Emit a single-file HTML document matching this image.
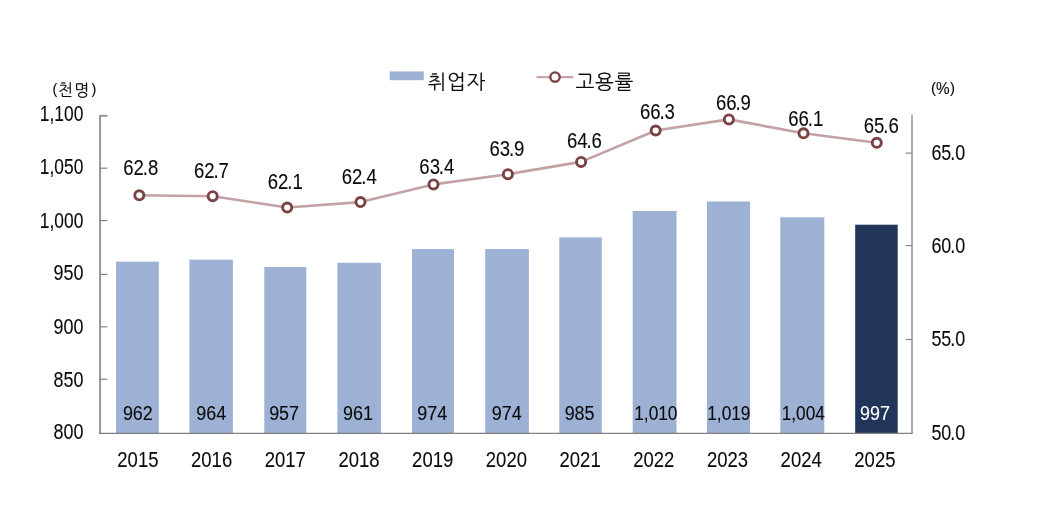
<!DOCTYPE html>
<html lang="ko">
<head>
<meta charset="utf-8">
<title>취업자 및 고용률 추이</title>
<style>
html,body{margin:0;padding:0;background:#fff;}
body{width:1052px;height:528px;overflow:hidden;font-family:"Liberation Sans","NanumGothic","Noto Sans CJK KR",sans-serif;}
svg{display:block;}
</style>
</head>
<body>
<svg width="1052" height="528" viewBox="0 0 1052 528">
<rect width="1052" height="528" fill="#ffffff"/>
<rect x="116.0" y="261.7" width="42.8" height="171.3" fill="#9cb1d4"/>
<rect x="189.4" y="259.6" width="43.5" height="173.4" fill="#9cb1d4"/>
<rect x="264.3" y="267.0" width="42.0" height="166.0" fill="#9cb1d4"/>
<rect x="337.4" y="262.8" width="43.5" height="170.2" fill="#9cb1d4"/>
<rect x="412.0" y="249.1" width="42.0" height="183.9" fill="#9cb1d4"/>
<rect x="485.2" y="249.1" width="43.7" height="183.9" fill="#9cb1d4"/>
<rect x="559.3" y="237.4" width="42.5" height="195.6" fill="#9cb1d4"/>
<rect x="632.7" y="211.0" width="43.8" height="222.0" fill="#9cb1d4"/>
<rect x="706.9" y="201.5" width="43.2" height="231.5" fill="#9cb1d4"/>
<rect x="780.3" y="217.3" width="44.0" height="215.7" fill="#9cb1d4"/>
<rect x="855.2" y="224.7" width="42.5" height="208.3" fill="#21355b"/>
<path d="M100.05 114.95 V434.0" fill="none" stroke="#979797" stroke-width="2"/>
<path d="M99.05 433.4 H912.9" fill="none" stroke="#808080" stroke-width="1.3"/>
<path d="M912.0 114.85 V433.0" fill="none" stroke="#a8a8a8" stroke-width="1.9"/>
<text transform="translate(83.40,439.20) scale(0.838,1)" text-anchor="end" font-size="21.4" letter-spacing="0" fill="#0a0a0a" stroke="#0a0a0a" stroke-width="0.1" style="font-family:'Liberation Sans', 'Noto Sans CJK KR', sans-serif">800</text>
<path d="M100.05 379.3 H107.4" stroke="#858585" stroke-width="1.2"/>
<text transform="translate(83.40,387.00) scale(0.838,1)" text-anchor="end" font-size="21.4" letter-spacing="0" fill="#0a0a0a" stroke="#0a0a0a" stroke-width="0.1" style="font-family:'Liberation Sans', 'Noto Sans CJK KR', sans-serif">850</text>
<path d="M100.05 326.8 H107.4" stroke="#858585" stroke-width="1.2"/>
<text transform="translate(83.40,333.60) scale(0.838,1)" text-anchor="end" font-size="21.4" letter-spacing="0" fill="#0a0a0a" stroke="#0a0a0a" stroke-width="0.1" style="font-family:'Liberation Sans', 'Noto Sans CJK KR', sans-serif">900</text>
<path d="M100.05 274.4 H107.4" stroke="#858585" stroke-width="1.2"/>
<text transform="translate(83.40,280.00) scale(0.838,1)" text-anchor="end" font-size="21.4" letter-spacing="0" fill="#0a0a0a" stroke="#0a0a0a" stroke-width="0.1" style="font-family:'Liberation Sans', 'Noto Sans CJK KR', sans-serif">950</text>
<path d="M100.05 220.6 H107.4" stroke="#858585" stroke-width="1.2"/>
<text transform="translate(83.40,227.80) scale(0.8128599999999999,1)" text-anchor="end" font-size="21.4" letter-spacing="0" fill="#0a0a0a" stroke="#0a0a0a" stroke-width="0.1" style="font-family:'Liberation Sans', 'Noto Sans CJK KR', sans-serif">1,000</text>
<path d="M100.05 168.2 H107.4" stroke="#858585" stroke-width="1.2"/>
<text transform="translate(83.40,173.70) scale(0.8128599999999999,1)" text-anchor="end" font-size="21.4" letter-spacing="0" fill="#0a0a0a" stroke="#0a0a0a" stroke-width="0.1" style="font-family:'Liberation Sans', 'Noto Sans CJK KR', sans-serif">1,050</text>
<path d="M100.05 115.8 H107.4" stroke="#979797" stroke-width="2"/>
<text transform="translate(83.40,120.90) scale(0.8128599999999999,1)" text-anchor="end" font-size="21.4" letter-spacing="0" fill="#0a0a0a" stroke="#0a0a0a" stroke-width="0.1" style="font-family:'Liberation Sans', 'Noto Sans CJK KR', sans-serif">1,100</text>
<text transform="translate(948.25,439.70) scale(0.838,1)" text-anchor="middle" font-size="21.4" letter-spacing="0" fill="#0a0a0a" stroke="#0a0a0a" stroke-width="0.1" style="font-family:'Liberation Sans', 'Noto Sans CJK KR', sans-serif" dx="0 0 -1.4 0">50.0</text>
<path d="M905.6 339.5 H912.1" stroke="#858585" stroke-width="1.2"/>
<text transform="translate(948.25,345.60) scale(0.838,1)" text-anchor="middle" font-size="21.4" letter-spacing="0" fill="#0a0a0a" stroke="#0a0a0a" stroke-width="0.1" style="font-family:'Liberation Sans', 'Noto Sans CJK KR', sans-serif" dx="0 0 -1.4 0">55.0</text>
<path d="M905.6 245.6 H912.1" stroke="#858585" stroke-width="1.2"/>
<text transform="translate(948.25,253.40) scale(0.838,1)" text-anchor="middle" font-size="21.4" letter-spacing="0" fill="#0a0a0a" stroke="#0a0a0a" stroke-width="0.1" style="font-family:'Liberation Sans', 'Noto Sans CJK KR', sans-serif" dx="0 0 -1.4 0">60.0</text>
<path d="M905.6 153.1 H912.1" stroke="#858585" stroke-width="1.2"/>
<text transform="translate(948.25,159.70) scale(0.838,1)" text-anchor="middle" font-size="21.4" letter-spacing="0" fill="#0a0a0a" stroke="#0a0a0a" stroke-width="0.1" style="font-family:'Liberation Sans', 'Noto Sans CJK KR', sans-serif" dx="0 0 -1.4 0">65.0</text>
<text transform="translate(137.85,420.35) scale(0.858,1)" text-anchor="middle" font-size="20.9" letter-spacing="0" fill="#0a0a0a" stroke="#0a0a0a" stroke-width="0.1" style="font-family:'Liberation Sans', 'Noto Sans CJK KR', sans-serif">962</text>
<text transform="translate(137.90,467.00) scale(0.83,1)" text-anchor="middle" font-size="22.3" letter-spacing="0" fill="#0a0a0a" stroke="#0a0a0a" stroke-width="0.1" style="font-family:'Liberation Sans', 'Noto Sans CJK KR', sans-serif">2015</text>
<text transform="translate(211.15,420.35) scale(0.858,1)" text-anchor="middle" font-size="20.9" letter-spacing="0" fill="#0a0a0a" stroke="#0a0a0a" stroke-width="0.1" style="font-family:'Liberation Sans', 'Noto Sans CJK KR', sans-serif">964</text>
<text transform="translate(211.60,467.00) scale(0.83,1)" text-anchor="middle" font-size="22.3" letter-spacing="0" fill="#0a0a0a" stroke="#0a0a0a" stroke-width="0.1" style="font-family:'Liberation Sans', 'Noto Sans CJK KR', sans-serif">2016</text>
<text transform="translate(284.10,420.35) scale(0.858,1)" text-anchor="middle" font-size="20.9" letter-spacing="0" fill="#0a0a0a" stroke="#0a0a0a" stroke-width="0.1" style="font-family:'Liberation Sans', 'Noto Sans CJK KR', sans-serif">957</text>
<text transform="translate(285.30,467.00) scale(0.83,1)" text-anchor="middle" font-size="22.3" letter-spacing="0" fill="#0a0a0a" stroke="#0a0a0a" stroke-width="0.1" style="font-family:'Liberation Sans', 'Noto Sans CJK KR', sans-serif">2017</text>
<text transform="translate(357.90,420.35) scale(0.858,1)" text-anchor="middle" font-size="20.9" letter-spacing="0" fill="#0a0a0a" stroke="#0a0a0a" stroke-width="0.1" style="font-family:'Liberation Sans', 'Noto Sans CJK KR', sans-serif">961</text>
<text transform="translate(359.00,467.00) scale(0.83,1)" text-anchor="middle" font-size="22.3" letter-spacing="0" fill="#0a0a0a" stroke="#0a0a0a" stroke-width="0.1" style="font-family:'Liberation Sans', 'Noto Sans CJK KR', sans-serif">2018</text>
<text transform="translate(432.15,420.35) scale(0.858,1)" text-anchor="middle" font-size="20.9" letter-spacing="0" fill="#0a0a0a" stroke="#0a0a0a" stroke-width="0.1" style="font-family:'Liberation Sans', 'Noto Sans CJK KR', sans-serif">974</text>
<text transform="translate(432.70,467.00) scale(0.83,1)" text-anchor="middle" font-size="22.3" letter-spacing="0" fill="#0a0a0a" stroke="#0a0a0a" stroke-width="0.1" style="font-family:'Liberation Sans', 'Noto Sans CJK KR', sans-serif">2019</text>
<text transform="translate(506.65,420.35) scale(0.858,1)" text-anchor="middle" font-size="20.9" letter-spacing="0" fill="#0a0a0a" stroke="#0a0a0a" stroke-width="0.1" style="font-family:'Liberation Sans', 'Noto Sans CJK KR', sans-serif">974</text>
<text transform="translate(506.40,467.00) scale(0.83,1)" text-anchor="middle" font-size="22.3" letter-spacing="0" fill="#0a0a0a" stroke="#0a0a0a" stroke-width="0.1" style="font-family:'Liberation Sans', 'Noto Sans CJK KR', sans-serif">2020</text>
<text transform="translate(579.60,420.35) scale(0.858,1)" text-anchor="middle" font-size="20.9" letter-spacing="0" fill="#0a0a0a" stroke="#0a0a0a" stroke-width="0.1" style="font-family:'Liberation Sans', 'Noto Sans CJK KR', sans-serif">985</text>
<text transform="translate(580.10,467.00) scale(0.83,1)" text-anchor="middle" font-size="22.3" letter-spacing="0" fill="#0a0a0a" stroke="#0a0a0a" stroke-width="0.1" style="font-family:'Liberation Sans', 'Noto Sans CJK KR', sans-serif">2021</text>
<text transform="translate(655.85,420.35) scale(0.82797,1)" text-anchor="middle" font-size="20.9" letter-spacing="0" fill="#0a0a0a" stroke="#0a0a0a" stroke-width="0.1" style="font-family:'Liberation Sans', 'Noto Sans CJK KR', sans-serif">1,010</text>
<text transform="translate(653.80,467.00) scale(0.83,1)" text-anchor="middle" font-size="22.3" letter-spacing="0" fill="#0a0a0a" stroke="#0a0a0a" stroke-width="0.1" style="font-family:'Liberation Sans', 'Noto Sans CJK KR', sans-serif">2022</text>
<text transform="translate(728.85,420.35) scale(0.82797,1)" text-anchor="middle" font-size="20.9" letter-spacing="0" fill="#0a0a0a" stroke="#0a0a0a" stroke-width="0.1" style="font-family:'Liberation Sans', 'Noto Sans CJK KR', sans-serif">1,019</text>
<text transform="translate(727.50,467.00) scale(0.83,1)" text-anchor="middle" font-size="22.3" letter-spacing="0" fill="#0a0a0a" stroke="#0a0a0a" stroke-width="0.1" style="font-family:'Liberation Sans', 'Noto Sans CJK KR', sans-serif">2023</text>
<text transform="translate(803.30,420.35) scale(0.82797,1)" text-anchor="middle" font-size="20.9" letter-spacing="0" fill="#0a0a0a" stroke="#0a0a0a" stroke-width="0.1" style="font-family:'Liberation Sans', 'Noto Sans CJK KR', sans-serif">1,004</text>
<text transform="translate(801.20,467.00) scale(0.83,1)" text-anchor="middle" font-size="22.3" letter-spacing="0" fill="#0a0a0a" stroke="#0a0a0a" stroke-width="0.1" style="font-family:'Liberation Sans', 'Noto Sans CJK KR', sans-serif">2024</text>
<text transform="translate(875.00,420.35) scale(0.858,1)" text-anchor="middle" font-size="20.9" letter-spacing="0" fill="#fff" stroke="#fff" stroke-width="0.1" style="font-family:'Liberation Sans', 'Noto Sans CJK KR', sans-serif">997</text>
<text transform="translate(874.90,467.00) scale(0.83,1)" text-anchor="middle" font-size="22.3" letter-spacing="0" fill="#0a0a0a" stroke="#0a0a0a" stroke-width="0.1" style="font-family:'Liberation Sans', 'Noto Sans CJK KR', sans-serif">2025</text>
<polyline points="139.3,195.3 212.7,196.2 287.2,207.5 360.5,202.1 433.5,184.4 507.9,174.2 581.1,161.9 655.7,130.5 728.9,119.4 803.5,133.3 876.8,142.8" fill="none" stroke="#c4a1a5" stroke-width="2.6" stroke-linejoin="round"/>
<circle cx="139.3" cy="195.3" r="4.55" fill="#fff" stroke="#7a4343" stroke-width="2.9"/>
<circle cx="212.7" cy="196.2" r="4.55" fill="#fff" stroke="#7a4343" stroke-width="2.9"/>
<circle cx="287.2" cy="207.5" r="4.55" fill="#fff" stroke="#7a4343" stroke-width="2.9"/>
<circle cx="360.5" cy="202.1" r="4.55" fill="#fff" stroke="#7a4343" stroke-width="2.9"/>
<circle cx="433.5" cy="184.4" r="4.55" fill="#fff" stroke="#7a4343" stroke-width="2.9"/>
<circle cx="507.9" cy="174.2" r="4.55" fill="#fff" stroke="#7a4343" stroke-width="2.9"/>
<circle cx="581.1" cy="161.9" r="4.55" fill="#fff" stroke="#7a4343" stroke-width="2.9"/>
<circle cx="655.7" cy="130.5" r="4.55" fill="#fff" stroke="#7a4343" stroke-width="2.9"/>
<circle cx="728.9" cy="119.4" r="4.55" fill="#fff" stroke="#7a4343" stroke-width="2.9"/>
<circle cx="803.5" cy="133.3" r="4.55" fill="#fff" stroke="#7a4343" stroke-width="2.9"/>
<circle cx="876.8" cy="142.8" r="4.55" fill="#fff" stroke="#7a4343" stroke-width="2.9"/>
<text transform="translate(123.20,175.00) scale(0.823,1)" text-anchor="start" font-size="22.6" letter-spacing="0" fill="#0a0a0a" stroke="#0a0a0a" stroke-width="0.1" style="font-family:'Liberation Sans', 'Noto Sans CJK KR', sans-serif" dx="0 0 -1.4 0">62.8</text>
<text transform="translate(193.90,177.80) scale(0.823,1)" text-anchor="start" font-size="22.6" letter-spacing="0" fill="#0a0a0a" stroke="#0a0a0a" stroke-width="0.1" style="font-family:'Liberation Sans', 'Noto Sans CJK KR', sans-serif" dx="0 0 -1.4 0">62.7</text>
<text transform="translate(267.70,189.20) scale(0.823,1)" text-anchor="start" font-size="22.6" letter-spacing="0" fill="#0a0a0a" stroke="#0a0a0a" stroke-width="0.1" style="font-family:'Liberation Sans', 'Noto Sans CJK KR', sans-serif" dx="0 0 -1.4 0">62.1</text>
<text transform="translate(341.70,184.10) scale(0.823,1)" text-anchor="start" font-size="22.6" letter-spacing="0" fill="#0a0a0a" stroke="#0a0a0a" stroke-width="0.1" style="font-family:'Liberation Sans', 'Noto Sans CJK KR', sans-serif" dx="0 0 -1.4 0">62.4</text>
<text transform="translate(419.30,173.60) scale(0.823,1)" text-anchor="start" font-size="22.6" letter-spacing="0" fill="#0a0a0a" stroke="#0a0a0a" stroke-width="0.1" style="font-family:'Liberation Sans', 'Noto Sans CJK KR', sans-serif" dx="0 0 -1.4 0">63.4</text>
<text transform="translate(489.40,156.00) scale(0.823,1)" text-anchor="start" font-size="22.6" letter-spacing="0" fill="#0a0a0a" stroke="#0a0a0a" stroke-width="0.1" style="font-family:'Liberation Sans', 'Noto Sans CJK KR', sans-serif" dx="0 0 -1.4 0">63.9</text>
<text transform="translate(566.90,147.80) scale(0.823,1)" text-anchor="start" font-size="22.6" letter-spacing="0" fill="#0a0a0a" stroke="#0a0a0a" stroke-width="0.1" style="font-family:'Liberation Sans', 'Noto Sans CJK KR', sans-serif" dx="0 0 -1.4 0">64.6</text>
<text transform="translate(639.90,119.20) scale(0.823,1)" text-anchor="start" font-size="22.6" letter-spacing="0" fill="#0a0a0a" stroke="#0a0a0a" stroke-width="0.1" style="font-family:'Liberation Sans', 'Noto Sans CJK KR', sans-serif" dx="0 0 -1.4 0">66.3</text>
<text transform="translate(715.90,110.40) scale(0.823,1)" text-anchor="start" font-size="22.6" letter-spacing="0" fill="#0a0a0a" stroke="#0a0a0a" stroke-width="0.1" style="font-family:'Liberation Sans', 'Noto Sans CJK KR', sans-serif" dx="0 0 -1.4 0">66.9</text>
<text transform="translate(788.20,125.80) scale(0.823,1)" text-anchor="start" font-size="22.6" letter-spacing="0" fill="#0a0a0a" stroke="#0a0a0a" stroke-width="0.1" style="font-family:'Liberation Sans', 'Noto Sans CJK KR', sans-serif" dx="0 0 -1.4 0">66.1</text>
<text transform="translate(863.70,133.00) scale(0.823,1)" text-anchor="start" font-size="22.6" letter-spacing="0" fill="#0a0a0a" stroke="#0a0a0a" stroke-width="0.1" style="font-family:'Liberation Sans', 'Noto Sans CJK KR', sans-serif" dx="0 0 -1.4 0">65.6</text>
<rect x="389.7" y="71.4" width="34.1" height="8.8" fill="#9cb1d4"/>
<text transform="translate(427.60,88.60) scale(1,1)" text-anchor="start" font-size="20" letter-spacing="0.6" fill="#0a0a0a" stroke="#0a0a0a" stroke-width="0.1" style="font-family:'Liberation Sans', 'NanumGothic', 'Noto Sans CJK KR', sans-serif">취업자</text>
<path d="M536.5 77.1 H573.3" stroke="#c6a4a7" stroke-width="2.4"/>
<circle cx="555.0" cy="77.1" r="4.7" fill="#fff" stroke="#7a4343" stroke-width="2.4"/>
<text transform="translate(575.60,88.60) scale(1,1)" text-anchor="start" font-size="20" letter-spacing="0.6" fill="#0a0a0a" stroke="#0a0a0a" stroke-width="0.1" style="font-family:'Liberation Sans', 'NanumGothic', 'Noto Sans CJK KR', sans-serif">고용률</text>
<text transform="translate(52.40,94.10) scale(0.97,1)" text-anchor="start" font-size="16.5" letter-spacing="1.3" fill="#0a0a0a" stroke="#0a0a0a" stroke-width="0.1" style="font-family:'Liberation Sans', 'NanumGothic', 'Noto Sans CJK KR', sans-serif"><tspan font-size="14.9">(</tspan><tspan dx="-0.6" dy="1.6">천명</tspan><tspan font-size="14.9" dx="1.1" dy="-1.6">)</tspan></text>
<text transform="translate(931.00,93.40) scale(0.97,1)" text-anchor="start" font-size="16.5" letter-spacing="0" fill="#0a0a0a" stroke="#0a0a0a" stroke-width="0.1" style="font-family:'Liberation Sans', 'Noto Sans CJK KR', sans-serif"><tspan font-size="15.5">(</tspan><tspan font-size="15.8" dy="1">%</tspan><tspan font-size="15.5" dy="-1" dx="0.3">)</tspan></text>
</svg>
</body>
</html>
